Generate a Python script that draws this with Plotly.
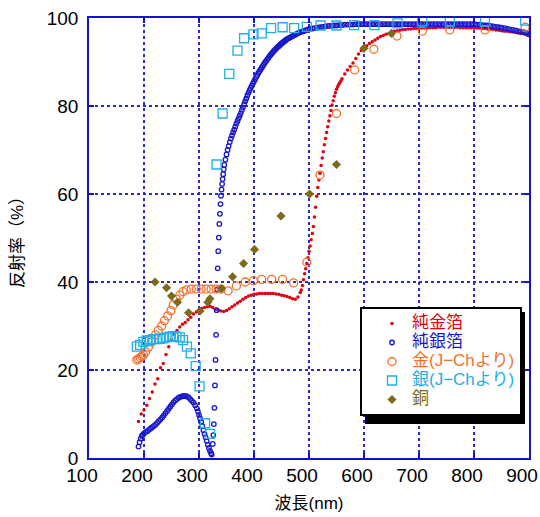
import plotly.graph_objects as go

# ---- data ----
gold_foil_x = [190,195,200,205,210,215,220,225,230,235,240,245,250,255,260,265,270,275,280,285,
               290,295,300,305,310,315,320,325,330,335,340,345,350,355,360,365,370,375,380,385,
               390,395,400,405,410,415,420,425,430,435,440,445,450,455,460,465,470,475,480,484,
               486,488,490,492,494,496,498,500,502,504,506,508,510,512,514,516,518,520,522,524,
               526,528,530,532,534,536,538,540,542,544,546,548,550,552,554,556,558,560,565,570,
               575,580,585,590,595,600,605,610,615,620,625,630,635,640,645,650,655,660,665,670,
               675,680,685,690,695,700,705,710,715,720,725,730,735,740,745,750,755,760,765,770,
               775,780,785,790,795,800,805,810,815,820,825,830,835,840,845,850,855,860,865,870,
               875,880,885,890,895,900]
gold_foil_y = [8.3,10.0,10.9,12.0,13.5,15.0,16.8,18.0,20.5,21.5,23.5,25.3,26.8,28.1,29.0,29.8,30.4,30.8,31.4,32.0,
               32.7,33.2,33.7,34.0,34.2,34.4,34.5,34.2,33.8,33.6,33.4,33.3,33.5,33.9,34.4,34.8,35.2,35.6,36.1,36.5,
               36.8,37.0,37.2,37.3,37.4,37.4,37.4,37.4,37.4,37.4,37.3,37.2,37.0,36.9,36.7,36.5,36.2,36.1,36.6,37.6,
               38.2,39.2,40.5,41.9,43.0,44.2,45.5,47.0,48.2,49.6,51.0,52.6,54.8,57.0,59.5,61.5,63.2,64.7,66.5,68.2,
               69.6,71.2,72.6,74.0,75.3,76.6,77.8,79.0,80.2,81.2,82.2,83.0,83.8,84.4,84.9,85.3,85.7,86.2,87.3,88.2,
               89.0,89.8,90.8,91.8,92.6,93.2,93.7,94.2,94.6,95.0,95.4,95.8,96.0,96.3,96.5,96.8,97.0,97.1,97.2,97.4,
               97.4,97.5,97.5,97.6,97.6,97.6,97.7,97.7,97.7,97.8,97.8,97.8,97.9,97.9,97.9,97.9,97.9,97.9,97.9,97.9,
               97.8,97.8,97.8,97.8,97.8,97.7,97.7,97.7,97.6,97.6,97.5,97.5,97.4,97.3,97.2,97.1,97.0,97.0,96.9,96.8,
               96.7,96.6,96.5,96.4,96.2,96.1]

silver_foil_x = [190,192,194,196,198,200,203,206,209,212,215,218,221,224,227,230,233,236,239,242,
                 245,248,251,254,257,260,263,266,269,272,275,278,281,284,287,290,293,296,298,300,
                 302,304,306,308,310,312,314,316,318,320,322,323,325,326,327,328,329,330,331,332,
                 333,334,335,336,337,338,339,340,341,342,343,344,345,346,348,350,352,354,356,358,
                 360,362,364,366,368,370,372,374,376,378,380,382,384,386,388,390,392,394,396,398,
                 400,402,404,406,408,410,412,414,416,418,420,422,424,426,428,430,432,434,436,438,
                 440,442,444,446,448,450,452,454,456,458,460,463,466,469,472,475,478,481,484,487,
                 490,494,498,502,506,510,515,520,525,530,535,540,545,550,555,560,565,570,575,580,
                 585,590,595,600,605,610,615,620,625,630,635,640,645,650,655,660,665,670,675,680,
                 685,690,695,700,705,710,715,720,725,730,735,740,745,750,755,760,765,770,775,780,
                 785,790,795,800,805,810,815,820,825,830,835,840,845,850,855,860,865,870,875,880,
                 885,890,895,900]
silver_foil_y = [2.6,3.6,4.4,5.0,5.3,5.6,5.9,6.1,6.4,6.7,7.0,7.3,7.6,8.0,8.4,8.8,9.2,9.7,10.2,10.7,
                 11.2,11.7,12.2,12.7,13.1,13.4,13.7,13.9,14.0,14.1,14.1,14.0,13.8,13.4,13.0,12.6,12.0,11.3,10.6,9.8,
                 9.0,8.2,7.3,6.3,5.5,4.7,3.9,3.0,2.3,1.6,1.1,0.8,3.2,5.2,7.7,11.4,16.5,22.3,28.0,33.6,
                 38.3,43.1,47.0,50.1,53.2,55.5,57.7,59.6,61.0,62.3,63.4,64.5,65.6,66.6,67.8,69.0,70.0,70.9,71.8,72.6,
                 73.3,74.0,74.6,75.3,76.0,76.6,77.2,77.8,78.4,79.1,79.7,80.4,81.1,81.7,82.4,83.0,83.6,84.1,84.6,85.1,
                 85.6,86.1,86.6,87.0,87.5,87.9,88.3,88.7,89.1,89.5,89.9,90.2,90.6,90.9,91.3,91.6,91.9,92.2,92.5,92.8,
                 93.0,93.3,93.5,93.7,94.0,94.2,94.4,94.6,94.8,95.0,95.2,95.4,95.6,95.8,96.0,96.2,96.4,96.6,96.8,96.9,
                 97.0,97.2,97.4,97.5,97.6,97.7,97.8,97.9,98.0,98.1,98.2,98.2,98.3,98.3,98.4,98.4,98.5,98.5,98.5,98.5,
                 98.6,98.6,98.6,98.6,98.6,98.6,98.6,98.6,98.6,98.6,98.6,98.6,98.6,98.6,98.6,98.6,98.6,98.6,98.6,98.6,
                 98.6,98.6,98.6,98.6,98.6,98.6,98.6,98.6,98.6,98.6,98.6,98.6,98.6,98.6,98.6,98.6,98.6,98.6,98.6,98.6,
                 98.6,98.6,98.6,98.6,98.5,98.5,98.4,98.3,98.3,98.2,98.1,98.0,97.9,97.8,97.7,97.6,97.4,97.3,97.2,97.0,
                 96.9,96.8,96.6,96.3]

gold_jch_x = [187,190,193,196,199,203,208,214,221,226,232,237,243,249,253,259,265,271,277,286,
              295,304,313,322,331,340,353,368,384,399,414,432,452,472,496,520,550,583,618,660,
              706,756,820,893]
gold_jch_y = [22.3,22.5,22.8,23.1,23.4,24.1,25.2,26.4,28.0,29.0,30.0,31.2,32.3,33.5,34.8,36.1,37.0,37.8,38.2,38.4,
              38.4,38.4,38.4,38.4,38.4,38.4,38.0,39.1,40.0,40.3,40.6,40.6,40.6,39.8,44.5,64.3,78.3,88.2,92.9,95.9,
              97.0,97.3,97.3,97.9]

silver_jch_x = [187,193,199,205,211,217,223,229,235,241,247,253,259,265,271,278,285,294,301,311,
                320,332,343,355,370,382,399,414,431,452,473,496,521,550,582,619,661,706,756,820,893]
silver_jch_y = [25.3,25.7,26.4,26.7,26.8,27.0,27.0,27.1,27.2,27.4,27.6,27.7,27.6,27.4,26.8,25.3,23.8,20.9,16.3,7.9,
                5.5,66.7,78.3,87.3,92.6,95.4,96.3,96.5,97.7,97.9,97.7,98.0,98.3,98.3,98.4,98.4,98.8,99.2,99.2,99.2,99.4]

copper_x = [220,241,250,261,281,302,316,320,341,361,381,401,449,501,550,600,650]
copper_y = [40.0,38.7,36.8,35.4,33.0,33.4,35.4,36.2,38.5,41.2,44.2,47.4,55.0,60.0,66.7,93.1,96.5]

names = ["純金箔", "純銀箔", "金(J−Chより)", "銀(J−Chより)", "銅"]
colors = ["#e00010", "#1818c8", "#f4702c", "#22aee6", "#7d6a1b"]

x_ticks = [100, 200, 300, 400, 500, 600, 700, 800, 900]
y_ticks = [0, 20, 40, 60, 80, 100]

NUM_FONT = "Liberation Sans, Arial"
JP_FONT = "Liberation Sans, Noto Sans CJK JP"


def lname(i):
    return '<span style="color:%s;font-size:17px">%s</span>' % (colors[i], names[i])


fig = go.Figure()
fig.add_trace(go.Scatter(x=gold_foil_x, y=gold_foil_y, mode="markers", name=lname(0),
                         marker=dict(symbol="circle", size=3.5, color=colors[0])))
fig.add_trace(go.Scatter(x=silver_foil_x, y=silver_foil_y, mode="markers", name=lname(1),
                         marker=dict(symbol="circle-open", size=4.5, color=colors[1],
                                     line=dict(width=1.3, color=colors[1]))))
fig.add_trace(go.Scatter(x=gold_jch_x, y=gold_jch_y, mode="markers", name=lname(2),
                         marker=dict(symbol="circle-open", size=8, color=colors[2],
                                     line=dict(width=1.3, color=colors[2]))))
fig.add_trace(go.Scatter(x=silver_jch_x, y=silver_jch_y, mode="markers", name=lname(3),
                         marker=dict(symbol="square-open", size=9, color=colors[3],
                                     line=dict(width=1.3, color=colors[3]))))
fig.add_trace(go.Scatter(x=copper_x, y=copper_y, mode="markers", name=lname(4),
                         marker=dict(symbol="diamond", size=7, color=colors[4])))

W, H = 540, 517
L, T = 89, 18
pw, ph = 440, 440
R, B = W - L - pw, H - T - ph


def px2paper(sx, sy):
    return (sx - L) / pw, (H - B - sy) / ph


lx, ly = px2paper(360, 307)
sx0, sy0 = px2paper(365, 424)
sx1, sy1 = px2paper(525, 312)

fig.add_shape(type="rect", xref="paper", yref="paper", x0=sx0, y0=sy0, x1=sx1, y1=sy1,
              fillcolor="black", line=dict(width=0), layer="above")

axis_common = dict(
    showline=True, linecolor="#1212c8", linewidth=1.5, mirror="ticks",
    showgrid=True, gridcolor="#2b2bd6", gridwidth=1.5, griddash="dot",
    zeroline=False, ticks="inside", ticklen=5, tickcolor="#1212c8", tickwidth=1.5,
    tickfont=dict(family=NUM_FONT, size=19, color="black"), automargin=False,
    ticklabeloverflow="allow",
)

fig.update_xaxes(range=[100, 900], tickvals=x_ticks, ticktext=[str(v) for v in x_ticks],
                 ticklabelstandoff=-1, ticklabelshift=-7,
                 title=dict(text="波長(nm)", font=dict(family=JP_FONT, size=17, color="black"), standoff=13),
                 **axis_common)
fig.update_yaxes(range=[0, 100], tickvals=y_ticks, ticktext=[str(v) for v in y_ticks],
                 ticklabelstandoff=5,
                 title=dict(text="反射率（%）", font=dict(family=JP_FONT, size=17, color="black"), standoff=19),
                 **axis_common)

fig.update_layout(
    width=W, height=H,
    margin=dict(l=L, r=R, t=T, b=B, pad=0, autoexpand=False),
    paper_bgcolor="white", plot_bgcolor="white",
    showlegend=True,
    legend=dict(x=lx, y=ly, xanchor="left", yanchor="top", bgcolor="white",
                bordercolor="black", borderwidth=2, indentation=10,
                font=dict(family=JP_FONT, size=12, color="black")),
)

# the page's default 8px body margin would push the 540x517 figure off the window
fig.write_html("out.html", config={"displayModeBar": False},
               post_script="document.body.style.margin='0px';")
